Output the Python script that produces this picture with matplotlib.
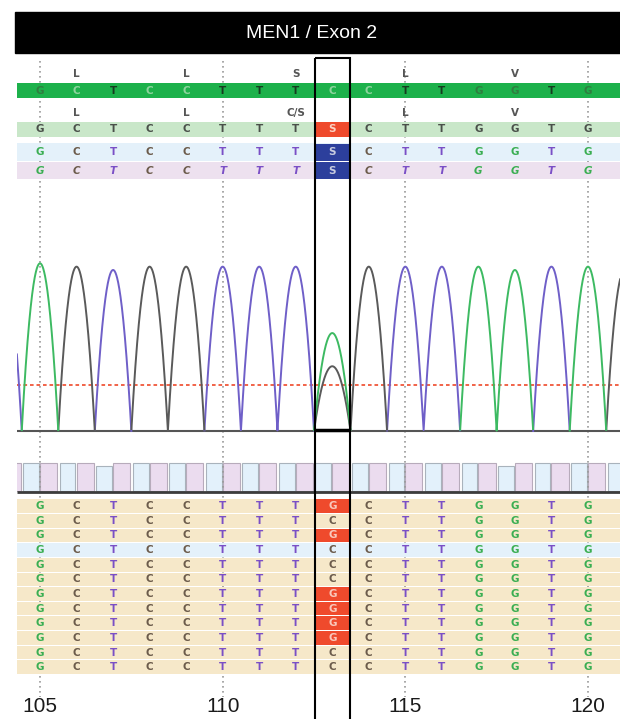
import numpy as np
import matplotlib.pyplot as plt
from matplotlib.patches import Rectangle

# Sequence data (positions 105-120)
positions = list(range(105, 121))
reference = list("GCTCCTTTCCTTGGTG")
sample_call = list("GCTCCTTTSCTTGGTG")
variant_pos = 113

# Amino acid annotations
aa_pos = [106, 109, 112, 115, 118]
aa_ref = ['L', 'L', 'S', 'L', 'V']
aa_sample = ['L', 'L', 'C/S', 'L', 'V']

# Chromatogram peaks (relative height)
trace_pos = [104, 105, 106, 107, 108, 109, 110, 111, 112, 113, 113,
             114, 115, 116, 117, 118, 119, 120, 121]
trace_base = ['T', 'G', 'C', 'T', 'C', 'C', 'T', 'T', 'T', 'G', 'C',
              'C', 'T', 'T', 'G', 'G', 'T', 'G', 'C']
trace_height = [1.0, 1.01, 0.99, 0.97, 0.99, 0.99, 0.99, 0.99, 0.99, 0.59, 0.39,
                0.99, 0.99, 0.99, 0.99, 0.97, 0.99, 0.99, 0.97]

# Quality bars (forward / reverse), positions 104-121
qual_pos = list(range(104, 122))
qual_fwd = [1.0, 1.0, 1.0, 0.9, 1.0, 1.0, 1.0, 1.0, 1.0,
            1.0, 1.0, 1.0, 1.0, 1.0, 0.88, 1.0, 1.0, 1.0]
qual_rev = [1.0] * 18

# Cohort calls at the variant position (12 samples), row 4 highlighted
cohort_calls = ['G', 'C', 'G', 'C', 'C', 'C', 'G', 'G', 'G', 'G', 'C', 'C']
cohort_highlight = 3

tick_pos = [105, 110, 115, 120]

base_col = {'G': '#3aae52', 'C': '#6b5b4b', 'T': '#7a4fc6'}
trace_col = {'G': '#3dba62', 'C': '#5a5a5a', 'T': '#6f5fc8'}

fig = plt.figure(figsize=(6.2, 7.19), dpi=100)
ax = fig.add_axes([17 / 620, 0, 603 / 620, 1])
x0, x1 = 104.37, 120.877
ax.set_xlim(x0, x1)
ax.set_ylim(719, 0)
ax.axis('off')

# title bar
fig.patches.append(Rectangle((15 / 620, 1 - 52.5 / 719), 605 / 620, 40.5 / 719,
                             transform=fig.transFigure, color='black'))
fig.text(312 / 620, 1 - 33 / 719, 'MEN1 / Exon 2', color='white', ha='center',
         va='center', fontsize=14, family='Liberation Sans')


def band(y0, y1, color, z=2):
    ax.add_patch(Rectangle((x0, y0), x1 - x0, y1 - y0, color=color, lw=0, zorder=z))


def cell(p, y0, y1, color):
    ax.add_patch(Rectangle((p - 0.475, y0), 0.95, y1 - y0, color=color, lw=0, zorder=3))


def letter(p, y, s, color, style='normal'):
    ax.text(p, y, s, ha='center', va='center', fontsize=7.5, fontweight='bold',
            color=color, style=style, zorder=5)


# dotted grid
ax.vlines(tick_pos, 61, 697, colors='#9a9a9a', linestyles=(0, (1, 2)), lw=1.2, zorder=1)

# amino acid rows
for p, a in zip(aa_pos, aa_ref):
    letter(p, 74, a, '#555555')
for p, a in zip(aa_pos, aa_sample):
    letter(p, 112.7, a, '#555555')

# reference bar (bright green)
band(82.7, 98.3, '#1db14b')
green_txt = {'G': '#2f7d3f', 'C': '#8fd49e', 'T': '#163b1f'}
for p, b in zip(positions, reference):
    letter(p, 90.5, b, green_txt[b])

# sample consensus (light green)
band(121.7, 136.7, '#c9e7c9')
for p, b in zip(positions, sample_call):
    if b == 'S':
        cell(p, 121.7, 136.7, '#ef4a2c')
        letter(p, 129.2, b, '#fbd3c4')
    else:
        letter(p, 129.2, b, '#4a504a')

# forward / reverse reads
band(143, 160.8, '#e4f1fa')
band(161.6, 179.3, '#ede1ef')
for p, b in zip(positions, sample_call):
    if b == 'S':
        cell(p, 143.5, 161.4, '#2c3f9c')
        cell(p, 162.3, 179.3, '#2c3f9c')
        letter(p, 152, b, '#c8cce0')
        letter(p, 170.6, b, '#c8cce0')
    else:
        letter(p, 152, b, base_col[b])
        letter(p, 170.6, b, base_col[b], style='italic')

# chromatogram
base_y, full_h = 431, 166
xs = np.linspace(103.4, 121.7, 6000)
for ch in ['T', 'C', 'G']:
    y = np.zeros_like(xs)
    for p, b, h in zip(trace_pos, trace_base, trace_height):
        if b == ch:
            dx = xs - p
            m = np.abs(dx) <= 0.5
            y[m] += h * (1 - 4 * dx[m] ** 2)
    yp = np.where(y > 0, base_y - full_h * y, np.nan)
    ax.plot(xs, yp, color=trace_col[ch], lw=1.4, zorder=3)
ax.hlines(base_y, x0, x1, color='#555555', lw=1.5, zorder=2.8)
ax.hlines(385, x0, x1, color='#f0573a', linestyles=(0, (2, 1.6)), lw=1.3, zorder=2.5)
ax.hlines(430, variant_pos - 0.475, variant_pos + 0.475, color='black', lw=2.5, zorder=6)

# quality bars
q_bot, q_h = 490.7, 28
for p, qf, qr in zip(qual_pos, qual_fwd, qual_rev):
    ax.add_patch(Rectangle((p - 0.46, q_bot - q_h * qf), 0.43, q_h * qf,
                           fc='#e3f1fb', ec='#a9b3bc', lw=0.8, zorder=0.5))
    ax.add_patch(Rectangle((p, q_bot - q_h * qr), 0.47, q_h * qr,
                           fc='#ebdcef', ec='#b7abbb', lw=0.8, zorder=0.5))
ax.hlines(492, x0, x1, color='#3c3c3c', lw=2, zorder=3)

# cohort rows
row_top, row_h = 499.3, 14.64
for i, call in enumerate(cohort_calls):
    y0 = row_top + i * row_h
    y1 = y0 + row_h - 1
    band(y0, y1, '#e4f1fa' if i == cohort_highlight else '#f6e8c9')
    yc = (y0 + y1) / 2
    for p, b in zip(positions, reference):
        if p == variant_pos:
            if call != b:
                cell(p, y0, y1, '#ef4a2c')
                letter(p, yc, call, '#f9c8bb')
            else:
                letter(p, yc, call, base_col[call])
        else:
            letter(p, yc, b, base_col[b])

# highlight box around variant column
ax.add_patch(Rectangle((variant_pos - 0.475, 58), 0.95, 700, fill=False,
                       ec='black', lw=1.5, zorder=6))

# position labels
for p in tick_pos:
    ax.text(p, 707, str(p), ha='center', va='center', fontsize=15,
            family='Liberation Sans', color='#1a1a1a', zorder=5)

fig.savefig('out.png', dpi=100)
